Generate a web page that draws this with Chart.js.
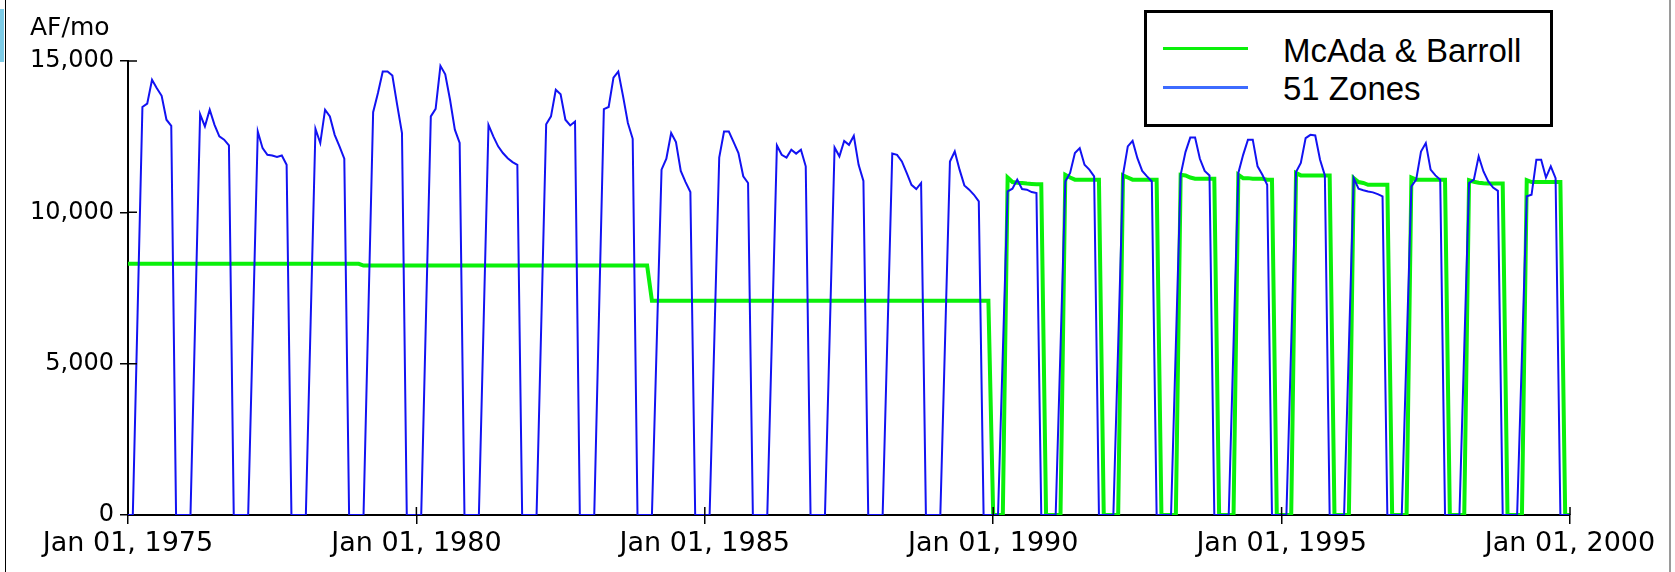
<!DOCTYPE html>
<html>
<head>
<meta charset="utf-8">
<script src="https://cdn.jsdelivr.net/npm/chart.js@4.4.1/dist/chart.umd.min.js"></script>
<style>
  body { margin: 0; background: #fff; }
  #wrap { position: relative; width: 1675px; height: 572px; overflow: hidden; background: #fff; }
  #c { position: absolute; left: 0; top: 0; }
  .frame-left { position: absolute; left: 5px; top: 0; width: 1px; height: 572px; background: #000; }
  .frame-right { position: absolute; left: 1669px; top: 0; width: 2px; height: 572px; background: #9a9a9a; }
  .corner { position: absolute; left: 0; top: 9px; width: 4px; height: 53px; background: #7ccbe6; }
  #unit { position: absolute; left: 30px; top: 14px; font: 25px "DejaVu Sans"; line-height: 25px; color: #000; }
  #legend { position: absolute; left: 1144px; top: 10px; width: 409px; height: 117px; box-sizing: border-box;
            border: 3px solid #000; background: #fff; }
  .lg-line { position: absolute; left: 1163px; width: 85px; height: 3px; }
  .lg-text { position: absolute; left: 1283px; font: 33px "Liberation Sans", Arial, sans-serif; line-height: 33px; color: #000; white-space: nowrap; }
</style>
</head>
<body>
<div id="wrap">
  <canvas id="c" width="1675" height="572"></canvas>
  <div class="frame-left"></div>
  <div class="frame-right"></div>
  <div class="corner"></div>
  <div id="unit">AF/mo</div>
  <div id="legend"></div>
  <div class="lg-line" style="top:47px; background:#0af00a;"></div>
  <div class="lg-text" style="top:34px;">McAda &amp; Barroll</div>
  <div class="lg-line" style="top:86px; background:#3d6bff;"></div>
  <div class="lg-text" style="top:72px;">51 Zones</div>
</div>
<script>
// monthly values, Jan 1975 .. Jan 2000 (one row per year: Jan..Dec)
const zones51 = [
  0, 0, 6700, 13480, 13590, 14380, 14100, 13850, 13060, 12860, 0, 0,   // 1975
  0, 0, 6600, 13240, 12840, 13390, 12890, 12510, 12400, 12210, 0, 0,   // 1976
  0, 0, 6300, 12670, 12120, 11900, 11880, 11830, 11880, 11570, 0, 0,   // 1977
  0, 0, 6400, 12760, 12290, 13390, 13170, 12560, 12180, 11770, 0, 0,   // 1978
  0, 0, 6650, 13310, 13940, 14650, 14650, 14520, 13550, 12620, 0, 0,   // 1979
  0, 0, 6600, 13170, 13420, 14840, 14560, 13720, 12730, 12290, 0, 0,   // 1980
  0, 0, 6450, 12890, 12510, 12180, 11960, 11790, 11660, 11570, 0, 0,   // 1981
  0, 0, 6450, 12910, 13170, 14050, 13900, 13060, 12870, 13000, 0, 0,   // 1982
  0, 0, 6700, 13410, 13480, 14450, 14650, 13830, 12950, 12430, 0, 0,   // 1983
  0, 0, 5700, 11410, 11770, 12620, 12320, 11370, 11000, 10670, 0, 0,   // 1984
  0, 0, 5900, 11810, 12670, 12670, 12320, 11960, 11190, 10970, 0, 0,   // 1985
  0, 0, 6100, 12210, 11900, 11810, 12070, 11940, 12070, 11520, 0, 0,   // 1986
  0, 0, 6050, 12140, 11850, 12360, 12230, 12530, 11570, 11040, 0, 0,   // 1987
  0, 0, 5950, 11940, 11900, 11680, 11300, 10910, 10770, 10970, 0, 0,   // 1988
  0, 0, 5850, 11680, 12010, 11410, 10890, 10750, 10580, 10360, 0, 0,   // 1989
  0, 0, 5350, 10690, 10780, 11080, 10770, 10750, 10670, 10640, 0, 0,   // 1990
  0, 0, 5500, 11020, 11300, 11960, 12120, 11570, 11410, 11190, 0, 0,   // 1991
  0, 0, 5600, 11240, 12180, 12360, 11790, 11370, 11190, 11020, 0, 0,   // 1992
  0, 0, 5600, 11240, 11990, 12470, 12470, 11770, 11370, 11220, 0, 0,   // 1993
  0, 0, 5650, 11300, 11900, 12400, 12400, 11520, 11240, 10910, 0, 0,   // 1994
  0, 0, 5650, 11330, 11630, 12450, 12560, 12540, 11740, 11220, 0, 0,   // 1995
  0, 0, 5550, 11130, 10780, 10730, 10690, 10660, 10600, 10530, 0, 0,   // 1996
  0, 0, 5450, 10860, 11080, 12010, 12290, 11410, 11220, 11080, 0, 0,   // 1997
  0, 0, 5500, 10970, 11080, 11850, 11350, 11020, 10820, 10710, 0, 0,   // 1998
  0, 0, 5250, 10530, 10580, 11740, 11740, 11150, 11520, 11130, 0, 0,   // 1999
  0                                                                    // 2000
];

const mcadaBarroll = [
  8300, 8300, 8300, 8300, 8300, 8300, 8300, 8300, 8300, 8300, 8300, 8300,   // 1975
  8300, 8300, 8300, 8300, 8300, 8300, 8300, 8300, 8300, 8300, 8300, 8300,   // 1976
  8300, 8300, 8300, 8300, 8300, 8300, 8300, 8300, 8300, 8300, 8300, 8300,   // 1977
  8300, 8300, 8300, 8300, 8300, 8300, 8300, 8300, 8300, 8300, 8300, 8300,   // 1978
  8300, 8240, 8240, 8240, 8240, 8240, 8240, 8240, 8240, 8240, 8240, 8240,   // 1979
  8240, 8240, 8240, 8240, 8240, 8240, 8240, 8240, 8240, 8240, 8240, 8240,   // 1980
  8240, 8240, 8240, 8240, 8240, 8240, 8240, 8240, 8240, 8240, 8240, 8240,   // 1981
  8240, 8240, 8240, 8240, 8240, 8240, 8240, 8240, 8240, 8240, 8240, 8240,   // 1982
  8240, 8240, 8240, 8240, 8240, 8240, 8240, 8240, 8240, 8240, 8240, 8240,   // 1983
  8240, 7080, 7080, 7080, 7080, 7080, 7080, 7080, 7080, 7080, 7080, 7080,   // 1984
  7080, 7080, 7080, 7080, 7080, 7080, 7080, 7080, 7080, 7080, 7080, 7080,   // 1985
  7080, 7080, 7080, 7080, 7080, 7080, 7080, 7080, 7080, 7080, 7080, 7080,   // 1986
  7080, 7080, 7080, 7080, 7080, 7080, 7080, 7080, 7080, 7080, 7080, 7080,   // 1987
  7080, 7080, 7080, 7080, 7080, 7080, 7080, 7080, 7080, 7080, 7080, 7080,   // 1988
  7080, 7080, 7080, 7080, 7080, 7080, 7080, 7080, 7080, 7080, 7080, 7080,   // 1989
  0, 0, 0, 11150, 11000, 10980, 10970, 10950, 10940, 10930, 10930, 0,       // 1990
  0, 0, 0, 11240, 11150, 11080, 11080, 11080, 11080, 11080, 11080, 0,       // 1991
  0, 0, 0, 11220, 11150, 11080, 11080, 11080, 11080, 11080, 11080, 0,       // 1992
  0, 0, 0, 11240, 11220, 11150, 11110, 11110, 11110, 11110, 11110, 0,       // 1993
  0, 0, 0, 11240, 11130, 11130, 11110, 11110, 11110, 11080, 11080, 0,       // 1994
  0, 0, 0, 11300, 11220, 11220, 11220, 11220, 11220, 11220, 11220, 0,       // 1995
  0, 0, 0, 11130, 11000, 10970, 10910, 10910, 10910, 10910, 10910, 0,       // 1996
  0, 0, 0, 11150, 11080, 11080, 11080, 11080, 11080, 11080, 11080, 0,       // 1997
  0, 0, 0, 11060, 11010, 10980, 10960, 10950, 10950, 10950, 10950, 0,       // 1998
  0, 0, 0, 11060, 11000, 11000, 11000, 11000, 11000, 11000, 11000, 0,       // 1999
  0                                                                          // 2000
];

const xTickLabels = ["Jan 01, 1975", "Jan 01, 1980", "Jan 01, 1985", "Jan 01, 1990", "Jan 01, 1995", "Jan 01, 2000"];
const monthsPerTick = 60;

// --- inner half of the axis tick marks (ticks cross the axis line) ---
const innerTicks = {
  id: "innerTicks",
  afterDatasetsDraw(chart) {
    const ctx = chart.ctx;
    const xs = chart.scales.x, ys = chart.scales.y;
    const area = chart.chartArea;
    ctx.save();
    ctx.strokeStyle = "#000";
    ctx.lineWidth = 1.5;
    ctx.beginPath();
    xs.ticks.forEach(t => {
      if (t.value === 0) return;
      const px = xs.getPixelForValue(t.value);
      ctx.moveTo(px, area.bottom);
      ctx.lineTo(px, area.bottom - 8);
    });
    ys.ticks.forEach(t => {
      if (t.value === 0) return;
      const py = ys.getPixelForValue(t.value);
      ctx.moveTo(area.left, py);
      ctx.lineTo(area.left + 9, py);
    });
    ctx.stroke();
    ctx.restore();
  }
};

const chart = new Chart(document.getElementById("c"), {
  type: "line",
  data: {
    datasets: [{
      label: "McAda & Barroll",
      data: mcadaBarroll.map((v, i) => ({ x: i, y: v })),
      borderColor: "#0af00a",
      borderWidth: 4,
      pointRadius: 0,
      tension: 0,
      order: 2
    }, {
      label: "51 Zones",
      data: zones51.map((v, i) => ({ x: i, y: v })),
      borderColor: "#1212f2",
      borderWidth: 2,
      pointRadius: 0,
      tension: 0,
      order: 1
    }]
  },
  options: {
    responsive: false,
    animation: false,
    devicePixelRatio: 1,
    layout: { padding: { top: 61, right: 105, left: 0, bottom: 0 } },
    plugins: { legend: { display: false }, tooltip: { enabled: false } },
    scales: {
      x: {
        type: "linear",
        min: 0,
        max: 300,
        afterFit: s => { s.height = 57; },
        grid: { drawOnChartArea: false, tickLength: 9, color: "#000", lineWidth: 1.5 },
        border: { display: true, color: "#000", width: 2 },
        ticks: {
          stepSize: monthsPerTick,
          autoSkip: false,
          maxRotation: 0,
          padding: 4,
          color: "#000",
          font: { family: "DejaVu Sans", size: 27 },
          callback: (v) => xTickLabels[Math.round(v / monthsPerTick)]
        }
      },
      y: {
        min: 0,
        max: 15000,
        afterFit: s => { s.width = 128; },
        grid: { drawOnChartArea: false, tickLength: 8, color: "#000", lineWidth: 1.5 },
        border: { display: true, color: "#000", width: 2 },
        ticks: {
          stepSize: 5000,
          padding: 6,
          color: "#000",
          font: { family: "DejaVu Sans", size: 24 }
        }
      }
    }
  },
  plugins: [innerTicks]
});
</script>
</body>
</html>
